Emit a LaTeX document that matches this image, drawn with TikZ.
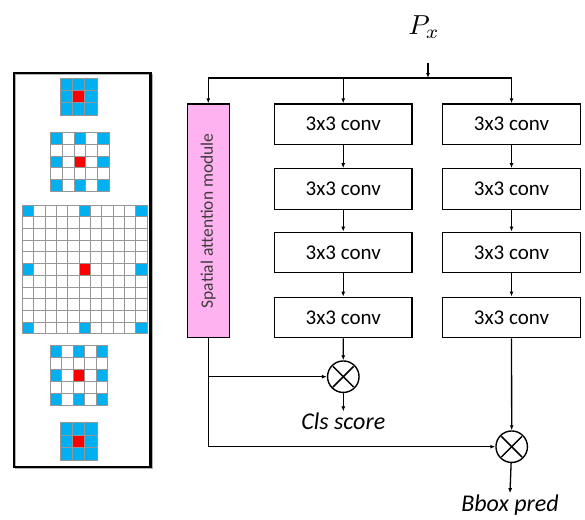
\documentclass[tikz,border=0pt]{standalone}
\usepackage{fontspec}
\usepackage{graphicx}
\setmainfont{Carlito}
\usetikzlibrary{arrows.meta}

\definecolor{cellblue}{RGB}{0,176,240}
\definecolor{cellred}{RGB}{255,0,0}
\definecolor{gridgray}{RGB}{150,150,150}
\definecolor{sampink}{RGB}{255,178,240}
\definecolor{samtext}{RGB}{60,60,60}

% Dilated kernel grid: #1,#2 top-left corner, #3 cells per side, #4,#5 cell width/height
\newcommand\dilgrid[5]{%
  \pgfmathtruncatemacro\gk{(#3-1)/2}%
  \pgfmathtruncatemacro\gm{#3-1}%
  \foreach \i in {0,...,\gm}{%
    \foreach \j in {0,...,\gm}{%
      \pgfmathtruncatemacro\isb{(mod(\i,\gk)==0)&&(mod(\j,\gk)==0)}%
      \pgfmathtruncatemacro\isc{(\i==\gk)&&(\j==\gk)}%
      \ifnum\isc=1 \def\gridfill{cellred}\else\ifnum\isb=1 \def\gridfill{cellblue}\else\def\gridfill{white}\fi\fi
      \filldraw[fill=\gridfill, draw=gridgray, line width=0.8pt]
        ({#1+\i*#4},{#2+\j*#5}) rectangle ++(#4,#5);
    }%
  }%
}

\tikzset{
  conv/.style={draw, line width=1.3pt, minimum width=137.5pt, minimum height=40.5pt,
    inner sep=0pt, font=\fontsize{21}{23}\selectfont},
  arr/.style={line width=1.3pt, -{Latex[length=5pt,width=4pt]}},
  wire/.style={line width=1.3pt},
  mult/.style={draw, circle, line width=1.4pt, minimum size=31.5pt, inner sep=0pt,
    path picture={\draw[line width=1.5pt]
      ([xshift=-10.3pt,yshift=-10.3pt]path picture bounding box.center) --
      ([xshift=10.3pt,yshift=10.3pt]path picture bounding box.center)
      ([xshift=-10.3pt,yshift=10.3pt]path picture bounding box.center) --
      ([xshift=10.3pt,yshift=-10.3pt]path picture bounding box.center);}},
  outlabel/.style={font=\fontsize{24}{26}\selectfont\itshape, inner sep=1pt}
}

\begin{document}
\begin{tikzpicture}[x=1pt, y=-1pt]
\useasboundingbox (0,0) rectangle (585,519);

% ---- left panel: dilated kernels ----
\draw[gray!60, line width=1pt] (15.5,74.5) rectangle (152,468.5);
\draw[black, line width=2.4pt] (14,73) rectangle (150.5,467);
\dilgrid{60}{78}{3}{12.4}{12.3}
\dilgrid{50.7}{132.7}{5}{11.7}{11.7}
\dilgrid{22.3}{205}{11}{11.35}{11.7}
\dilgrid{50}{345.7}{5}{11.55}{12}
\dilgrid{60}{422.7}{3}{12.4}{12.4}

% ---- right: detection head ----
\node (px) at (424,27) {\scalebox{2.75}{$P_x$}};
\coordinate (pxout) at (428,63);
\coordinate (split) at (428,78);

% spatial attention module (rotated: east is the top, west is the bottom)
\node[draw, line width=1.3pt, fill=sampink, rotate=90, minimum width=233.7pt,
      minimum height=42pt, inner sep=0pt, text=samtext,
      font=\fontsize{17.5}{19}\selectfont] (sam) at (208.3,220.8) {Spatial attention module};

\node[conv] (c11) at (343.2,124.2) {3x3 conv};
\node[conv] (c12) at (343.2,189)   {3x3 conv};
\node[conv] (c13) at (343.2,252.5) {3x3 conv};
\node[conv] (c14) at (343.2,317.5) {3x3 conv};
\node[conv] (c21) at (511.5,124.2) {3x3 conv};
\node[conv] (c22) at (511.5,189)   {3x3 conv};
\node[conv] (c23) at (511.5,252.5) {3x3 conv};
\node[conv] (c24) at (511.5,317.5) {3x3 conv};

\node[mult] (m1) at (343.3,376.7) {};
\node[mult] (m2) at (511.7,446.7) {};

\node[outlabel, anchor=base] (cls)  at (343.3,429.3) {Cls score};
\node[outlabel, anchor=base] (bbox) at (510,511)    {Bbox pred};

% input fan-out
\draw[arr] (pxout) -- (split);
\draw[wire] (split) -| (c21.north |- split);
\draw[arr] (split) -| (sam.east);
\draw[arr] (c11.north |- split) -- (c11.north);
\draw[arr] (c21.north |- split) -- (c21.north);

% conv towers
\draw[arr] (c11) -- (c12);
\draw[arr] (c12) -- (c13);
\draw[arr] (c13) -- (c14);
\draw[arr] (c21) -- (c22);
\draw[arr] (c22) -- (c23);
\draw[arr] (c23) -- (c24);
\draw[arr] (c14) -- (m1);
\draw[arr] (c24) -- (m2);

% attention weighting
\draw[arr] (sam.west) |- (m2.west);
\draw[arr] (sam.west |- m1) -- (m1.west);

% outputs
\draw[arr] (m1) -- (cls.north);
\draw[arr] (m2) -- (bbox.north);
\end{tikzpicture}
\end{document}
